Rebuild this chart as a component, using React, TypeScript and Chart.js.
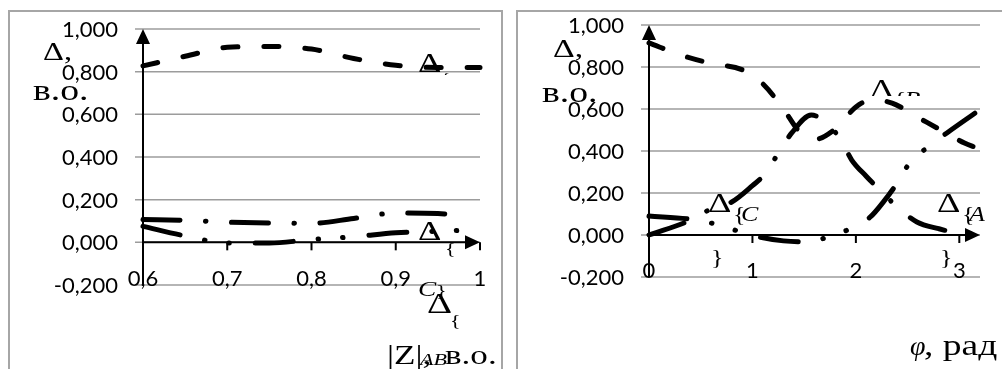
import React, { useEffect, useRef } from "react";
import { Chart, registerables } from "chart.js";

Chart.register(...registerables);

// ---------- Left panel data (x = |Z|_AB, в.о.) ----------
const leftDashedX = [0.6, 0.65, 0.7, 0.75, 0.8, 0.85, 0.9, 0.95, 1.0];
const leftDashedY = [0.827, 0.872, 0.914, 0.918, 0.906, 0.862, 0.83, 0.82, 0.82];
const leftDashDotX = [0.6, 0.65, 0.7, 0.75, 0.8, 0.85, 0.9, 0.95, 0.975];
const leftDashDotY = [0.107, 0.103, 0.095, 0.09, 0.089, 0.112, 0.137, 0.135, 0.126];
const leftDashDotDotX = [0.6, 0.65, 0.7, 0.75, 0.8, 0.85, 0.9, 0.95, 0.98];
const leftDashDotDotY = [0.075, 0.03, -0.003, -0.003, 0.013, 0.026, 0.045, 0.052, 0.056];
const leftXTickValues = [0.6, 0.7, 0.8, 0.9, 1.0];
const leftXTickLabels = ["0,6", "0,7", "0,8", "0,9", "1"];

// ---------- Right panel data (x = φ, рад) ----------
const rightDashedX = [0, 0.3, 0.6, 0.9, 1.1, 1.3, 1.45, 1.6, 1.8, 2.0, 2.15, 2.35, 2.6, 2.85, 3.05, 3.17];
const rightDashedY = [0.915, 0.858, 0.817, 0.787, 0.72, 0.6, 0.495, 0.455, 0.505, 0.61, 0.643, 0.628, 0.56, 0.492, 0.438, 0.414];
const rightDashDotX = [0, 0.4, 0.6, 0.8, 1.0, 1.13, 1.25, 1.38, 1.57, 1.68, 1.85, 1.96, 2.1, 2.25, 2.41, 2.59, 2.8, 2.98, 3.17];
const rightDashDotY = [0, 0.07, 0.124, 0.157, 0.235, 0.295, 0.39, 0.486, 0.571, 0.548, 0.457, 0.357, 0.28, 0.205, 0.129, 0.062, 0.03, 0.01, 0.005];
const rightDashDotDotX = [0, 0.4, 0.64, 0.86, 1.07, 1.3, 1.51, 1.73, 1.94, 2.14, 2.27, 2.4, 2.52, 2.7, 2.88, 3.15];
const rightDashDotDotY = [0.09, 0.075, 0.052, 0.019, -0.01, -0.028, -0.033, -0.01, 0.029, 0.086, 0.16, 0.248, 0.343, 0.42, 0.486, 0.58];
const rightXTickValues = [0, 1, 2, 3];
const rightXTickLabels = ["0", "1", "2", "3"];

// ---------- Shared y axis ----------
const yTickValues = [-0.2, 0, 0.2, 0.4, 0.6, 0.8, 1.0];
const yTickLabels = ["-0,200", "0,000", "0,200", "0,400", "0,600", "0,800", "1,000"];

const DASHED = [15, 26];
const DASH_DOT = [37, 25.5, 0.5, 25.5];
const DASH_DOT_DOT = [38, 25, 0.5, 24, 0.5, 26];

const pts = (xs: number[], ys: number[]) => xs.map((x, i) => ({ x, y: ys[i] }));

type PanelProps = {
  left: number;
  top: number;
  width: number;
  height: number;
  pad: { left: number; right: number; top: number; bottom: number };
  xMin: number;
  xMax: number;
  series: { data: { x: number; y: number }[]; dash: number[] }[];
  xTicks: number[];
  xTickLabels: string[];
};

function Panel(p: PanelProps) {
  const ref = useRef<HTMLCanvasElement>(null);
  useEffect(() => {
    if (!ref.current) return;
    const axisPlugin = {
      id: "excelAxes",
      beforeDatasetsDraw(chart: any) {
        const { ctx, chartArea: a, scales } = chart;
        const x = scales.x;
        const y = scales.y;
        ctx.save();
        ctx.strokeStyle = "#9c9c9c";
        ctx.lineWidth = 1.5;
        for (const v of yTickValues) {
          const py = y.getPixelForValue(v);
          ctx.beginPath();
          ctx.moveTo(a.left - 8, py);
          ctx.lineTo(a.right, py);
          ctx.stroke();
        }
        ctx.strokeStyle = "#000";
        ctx.fillStyle = "#000";
        ctx.lineWidth = 2;
        const top = y.getPixelForValue(yTickValues[yTickValues.length - 1]);
        const bottom = y.getPixelForValue(yTickValues[0]);
        ctx.beginPath();
        ctx.moveTo(a.left, bottom);
        ctx.lineTo(a.left, top + 12);
        ctx.stroke();
        ctx.beginPath();
        ctx.moveTo(a.left, top);
        ctx.lineTo(a.left - 7, top + 15);
        ctx.lineTo(a.left + 7, top + 15);
        ctx.closePath();
        ctx.fill();
        const y0 = y.getPixelForValue(0);
        ctx.beginPath();
        ctx.moveTo(a.left, y0);
        ctx.lineTo(a.right - 12, y0);
        ctx.stroke();
        ctx.beginPath();
        ctx.moveTo(a.right, y0);
        ctx.lineTo(a.right - 15, y0 - 7);
        ctx.lineTo(a.right - 15, y0 + 7);
        ctx.closePath();
        ctx.fill();
        for (const v of p.xTicks) {
          if (v === p.xMin) continue;
          const px = x.getPixelForValue(v);
          ctx.beginPath();
          ctx.moveTo(px, y0);
          ctx.lineTo(px, y0 + 8);
          ctx.stroke();
        }
        ctx.restore();
      },
      afterDatasetsDraw(chart: any) {
        const { ctx, chartArea: a, scales } = chart;
        const x = scales.x;
        const y = scales.y;
        ctx.save();
        ctx.fillStyle = "#000";
        ctx.font = '22px Lato, "Open Sans", sans-serif';
        ctx.textBaseline = "alphabetic";
        ctx.textAlign = "right";
        yTickValues.forEach((v, i) => {
          ctx.fillText(yTickLabels[i], a.left - 25, y.getPixelForValue(v) + 8);
        });
        ctx.textAlign = "center";
        const base = y.getPixelForValue(yTickValues[0]) + 0.5;
        p.xTicks.forEach((v, i) => {
          ctx.fillText(p.xTickLabels[i], x.getPixelForValue(v), base);
        });
        ctx.restore();
      },
    };
    const chart = new Chart(ref.current, {
      type: "line",
      data: {
        datasets: p.series.map((s) => ({
          data: s.data,
          borderColor: "#000",
          borderWidth: 5,
          borderDash: s.dash,
          borderCapStyle: "round",
          borderJoinStyle: "round",
          pointRadius: 0,
          fill: false,
          cubicInterpolationMode: "monotone",
          clip: false,
        })) as any,
      },
      options: {
        responsive: false,
        animation: false,
        events: [],
        layout: { padding: p.pad },
        plugins: { legend: { display: false }, tooltip: { enabled: false } },
        scales: {
          x: { type: "linear", min: p.xMin, max: p.xMax, display: false },
          y: { type: "linear", min: -0.2, max: 1.0, display: false },
        },
      } as any,
      plugins: [axisPlugin],
    });
    return () => chart.destroy();
  }, []);
  return (
    <canvas
      ref={ref}
      width={p.width}
      height={p.height}
      style={{ position: "absolute", left: p.left, top: p.top, width: p.width, height: p.height }}
    />
  );
}

type LblProps = { text: string; x: number; base: number; size: number; italic?: boolean; clip?: [number, number]; sx?: number };

function Lbl({ text, x, base, size, italic, clip, sx }: LblProps) {
  const inner = (offY: number) => (
    <div
      style={{
        position: "absolute",
        left: x,
        top: base - 0.8375 * size - offY,
        fontFamily: '"Liberation Serif", "Times New Roman", serif',
        fontSize: size,
        lineHeight: `${size}px`,
        fontStyle: italic ? "italic" : "normal",
        whiteSpace: "nowrap",
        color: "#000",
        transform: `scaleX(${sx ?? 1.3})`,
        transformOrigin: "left top",
      }}
    >
      {text}
    </div>
  );
  if (clip) {
    return (
      <div style={{ position: "absolute", left: 0, top: clip[0], width: 1002, height: clip[1] - clip[0], overflow: "hidden" }}>
        {inner(clip[0])}
      </div>
    );
  }
  return inner(0);
}

export default function App() {
  return (
    <div style={{ position: "fixed", left: 0, top: 0, width: 1002, height: 369, overflow: "hidden", background: "#fff" }}>
      <div style={{ position: "absolute", left: 8, top: 10, width: 495, height: 400, border: "2px solid #a6a6a6", boxSizing: "border-box" }} />
      <div style={{ position: "absolute", left: 516, top: 10, width: 500, height: 400, border: "2px solid #a6a6a6", boxSizing: "border-box" }} />

      <Panel
        left={8}
        top={10}
        width={495}
        height={359}
        pad={{ left: 135, right: 23, top: 19, bottom: 84 }}
        xMin={0.6}
        xMax={1.0}
        xTicks={leftXTickValues}
        xTickLabels={leftXTickLabels}
        series={[
          { data: pts(leftDashedX, leftDashedY), dash: DASHED },
          { data: pts(leftDashDotX, leftDashDotY), dash: DASH_DOT },
          { data: pts(leftDashDotDotX, leftDashDotDotY), dash: DASH_DOT_DOT },
        ]}
      />
      <Panel
        left={516}
        top={10}
        width={486}
        height={359}
        pad={{ left: 133, right: 22, top: 15, bottom: 92 }}
        xMin={0}
        xMax={3.2}
        xTicks={rightXTickValues}
        xTickLabels={rightXTickLabels}
        series={[
          { data: pts(rightDashedX, rightDashedY), dash: DASHED },
          { data: pts(rightDashDotX, rightDashDotY), dash: DASH_DOT },
          { data: pts(rightDashDotDotX, rightDashDotDotY), dash: DASH_DOT_DOT },
        ]}
      />

      {/* left panel labels */}
      <Lbl text="Δ," x={43} base={60} size={25} />
      <Lbl text="в.о." x={33} base={100} size={29} />
      <Lbl text="Δ" x={418} base={72} size={28} clip={[40, 75]} />
      <Lbl text="{" x={441} base={84} size={15} clip={[40, 75]} />
      <Lbl text="Δ" x={418} base={240} size={28} />
      <Lbl text="{" x={445} base={255} size={17} />
      <Lbl text="C" x={418} base={297} size={21} italic />
      <Lbl text="}" x={436} base={297} size={17} />
      <Lbl text="Δ" x={427} base={313} size={30} />
      <Lbl text="{" x={450} base={327} size={17} />
      <Lbl text="|Z|," x={387} base={365} size={27} />
      <Lbl text="AB" x={420} base={365} size={17} italic />
      <Lbl text="в.о." x={445} base={365} size={27} />

      {/* right panel labels */}
      <Lbl text="Δ," x={553} base={58} size={26} />
      <Lbl text="в.о." x={542} base={102} size={29} />
      <Lbl text="Δ" x={870} base={98} size={28} clip={[60, 96]} />
      <Lbl text="{B" x={894} base={106} size={20} italic clip={[60, 96]} />
      <Lbl text="Δ" x={708} base={212} size={28} />
      <Lbl text="{" x={733} base={221} size={20} />
      <Lbl text="C" x={741} base={221} size={20} italic />
      <Lbl text="}" x={711} base={264} size={20} />
      <Lbl text="Δ" x={937} base={212} size={28} />
      <Lbl text="{" x={962} base={221} size={20} />
      <Lbl text="A" x={969} base={221} size={20} italic />
      <Lbl text="}" x={940} base={264} size={20} />
      <Lbl text="φ" x={910} base={355} size={28} italic sx={1} />
      <Lbl text=", рад" x={924} base={355} size={30} sx={1.25} />
    </div>
  );
}
